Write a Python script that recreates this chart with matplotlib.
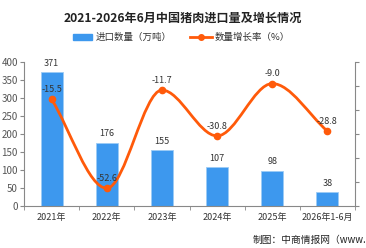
import matplotlib
matplotlib.use("Agg")
from matplotlib import pyplot as plt
from matplotlib.path import Path
from matplotlib.patches import PathPatch
import numpy as np

plt.rcParams['font.family'] = ['Noto Sans CJK SC', 'DejaVu Sans']

years = ['2021年', '2022年', '2023年', '2024年', '2025年', '2026年1-6月']
volume = [371, 176, 155, 107, 98, 38]
growth = [-15.5, -52.6, -11.7, -30.8, -9.0, -28.8]

bar_color = '#3D98EE'
line_color = '#FF5A0A'
grid_gray = '#888888'

fig = plt.figure(figsize=(3.66, 2.48), dpi=100)
ax = fig.add_axes([24 / 366, 1 - 206 / 248, 331 / 366, 144 / 248])
x = np.arange(len(years))

ax.bar(x, volume, width=0.4, color=bar_color, edgecolor='#9CCBF5', linewidth=0.6, zorder=2)
for xi, v in zip(x, volume):
    ax.text(xi, v + 12, str(v), ha='center', va='bottom', fontsize=6.5, color='#333333')

ax.set_xlim(-0.5, len(years) - 0.5)
ax.set_ylim(0, 400)
ax.set_yticks(np.arange(0, 401, 50))
ax.set_xticks(x)
ax.set_xticklabels(years)
ax.set_xticks(np.arange(-0.5, len(years), 1), minor=True)
ax.tick_params(axis='x', which='major', length=0, labelsize=6.5, colors='#333333', pad=5)
ax.tick_params(axis='x', which='minor', length=3, color=grid_gray)
ax.tick_params(axis='y', length=3, labelsize=7, colors='#555555', pad=1.5)
ax.tick_params(axis='y', color=grid_gray)
for side in ['top', 'right']:
    ax.spines[side].set_visible(False)
for side in ['left', 'bottom']:
    ax.spines[side].set_color(grid_gray)
    ax.spines[side].set_linewidth(0.8)

ax2 = ax.twinx()
ax2.set_ylim(-60, 0)
ax2.set_yticks(np.arange(-60, 1, 10))
ax2.tick_params(axis='y', length=3, labelsize=7, colors='#555555', color=grid_gray, pad=6)
for side in ['top', 'left', 'bottom']:
    ax2.spines[side].set_visible(False)
ax2.spines['right'].set_color(grid_gray)
ax2.spines['right'].set_linewidth(0.8)

# smooth curve through the points, flat at the turning points
gy = np.array(growth, dtype=float)
n = len(gy)
slopes = np.zeros(n)
slopes[0] = gy[1] - gy[0]
slopes[-1] = gy[-1] - gy[-2]
verts = [(x[0], gy[0])]
codes = [Path.MOVETO]
for i in range(n - 1):
    verts += [(x[i] + 1 / 3, gy[i] + slopes[i] / 3),
              (x[i + 1] - 1 / 3, gy[i + 1] - slopes[i + 1] / 3),
              (x[i + 1], gy[i + 1])]
    codes += [Path.CURVE4] * 3
ax2.add_patch(PathPatch(Path(verts, codes), facecolor='none', edgecolor=line_color,
                        linewidth=2, zorder=3))
ax2.plot(x, gy, 'o', color=line_color, markersize=4.5, zorder=4)
for xi, g in zip(x, growth):
    ax2.text(xi, g + 2.2, '%.1f' % g, ha='center', va='bottom', fontsize=6.5, color='#333333')

fig.text(0.5, 1 - 18 / 248, '2021-2026年6月中国猪肉进口量及增长情况', ha='center', va='center',
         fontsize=8.7, fontweight='bold', color='#222222')

# legend
fig.patches.append(plt.Rectangle((73 / 366, 1 - 40 / 248), 19 / 366, 6 / 248,
                                 transform=fig.transFigure, color=bar_color))
fig.text(96 / 366, 1 - 37 / 248, '进口数量（万吨）', ha='left', va='center', fontsize=6.8, color='#333333')
fig.lines.append(plt.Line2D([190 / 366, 212 / 366], [1 - 37 / 248, 1 - 37 / 248],
                            transform=fig.transFigure, color=line_color, linewidth=2))
fig.lines.append(plt.Line2D([201 / 366], [1 - 37 / 248], transform=fig.transFigure,
                            color=line_color, marker='o', markersize=4))
fig.text(215 / 366, 1 - 37 / 248, '数量增长率（%）', ha='left', va='center', fontsize=6.8, color='#333333')

fig.text(253 / 366, 1 - 240 / 248, '制图：中商情报网（www.askci.com）', ha='left', va='center',
         fontsize=7, color='#222222')

fig.savefig('out.png', dpi=100)
